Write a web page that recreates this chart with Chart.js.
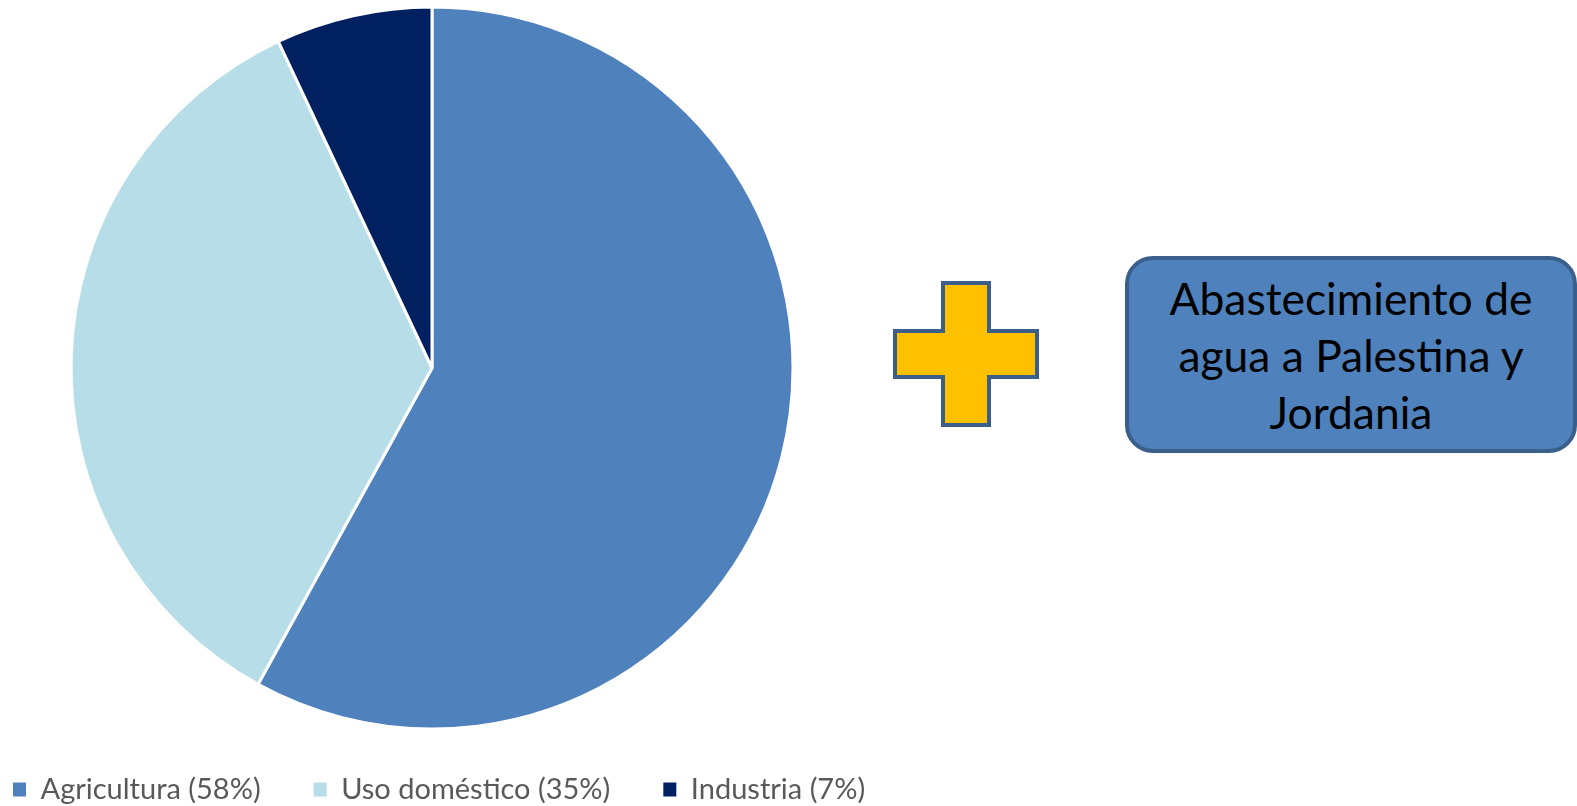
<!DOCTYPE html>
<html>
<head>
<meta charset="utf-8">
<script src="https://cdn.jsdelivr.net/npm/chart.js@4"></script>
<style>
html,body{margin:0;padding:0;width:1577px;height:806px;overflow:hidden;background:#ffffff;}
#wrap{position:absolute;left:-40px;top:0;width:1100px;height:814px;}
#plus{position:absolute;left:893px;top:281px;width:146px;height:146px;}
#box{position:absolute;left:1125px;top:256px;width:452px;height:197px;box-sizing:border-box;
 border:4px solid #3A5F8B;border-radius:28px;background:#4F81BD;display:flex;align-items:center;
 justify-content:center;text-align:center;font-family:Lato,"Liberation Sans",sans-serif;font-size:44.4px;line-height:57px;color:#000;}
</style>
</head>
<body>
<div id="wrap"><canvas id="c"></canvas></div>
<svg id="plus" viewBox="0 0 146 146" xmlns="http://www.w3.org/2000/svg">
 <polygon points="50,2 96,2 96,50 144,50 144,96 96,96 96,144 50,144 50,96 2,96 2,50 50,50"
  fill="#FFC000" stroke="#3A5F8B" stroke-width="4"/>
</svg>
<div id="box"><div>Abastecimiento de<br>agua a Palestina y<br>Jordania</div></div>
<script>
const categories = ['Agricultura (58%)', 'Uso doméstico (35%)', 'Industria (7%)'];
const shares = [58, 35, 7];
const sliceColors = ['#4F81BD', '#B7DEE8', '#002060'];

const baseLabels = (Chart.overrides.pie || Chart.overrides.doughnut).plugins.legend.labels.generateLabels;

new Chart(document.getElementById('c'), {
  type: 'pie',
  data: {
    labels: categories,
    datasets: [{
      data: shares,
      backgroundColor: sliceColors,
      borderColor: '#ffffff',
      borderWidth: 3,
      radius: 361,
      hoverOffset: 0
    }]
  },
  options: {
    responsive: true,
    maintainAspectRatio: false,
    animation: false,
    events: [],
    layout: { padding: { top: 14 } },
    plugins: {
      tooltip: { enabled: false },
      title: {
        display: true, position: 'right', text: '',
        padding: { top: 141.6, bottom: 0 },
        font: { size: 12, lineHeight: 1.2 }
      },
      legend: {
        position: 'bottom',
        align: 'start',
        labels: {
          padding: 53,
          boxWidth: 13,
          boxHeight: 14,
          color: '#595959',
          font: { family: 'Lato', size: 29 },
          generateLabels: (chart) => baseLabels(chart).map(l => Object.assign(l, { lineWidth: 0 }))
        }
      }
    }
  }
});
</script>
</body>
</html>
